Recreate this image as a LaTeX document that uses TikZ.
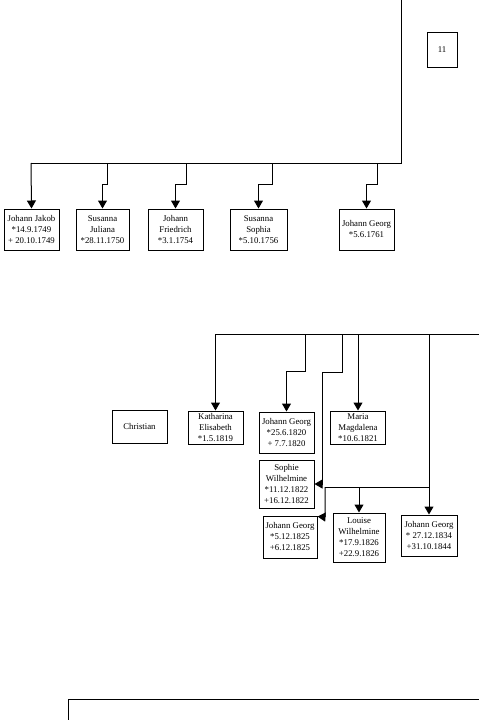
\documentclass[tikz,border=0pt]{standalone}
\usepackage{fontspec}
\setmainfont{Liberation Serif}
\usetikzlibrary{arrows.meta}
\begin{document}
\begin{tikzpicture}[x=1pt,y=-1pt,
  box/.style={draw, line width=1pt, rectangle, inner sep=0pt, align=center,
    font=\fontsize{8.8}{11}\selectfont},
  ln/.style={line width=1pt},
  arr/.style={line width=1pt,-{Triangle[width=9pt,length=8pt]}}]
\useasboundingbox (0,0) rectangle (479,720);
% boxes
\node[box, minimum width=30pt, minimum height=35pt] (b11) at (442,49.5) {11};
\node[box, minimum width=55pt, minimum height=41pt] (jj) at (31.5,229.5) {Johann Jakob\\*14.9.1749\\+ 20.10.1749};
\node[box, minimum width=53pt, minimum height=41pt] (sj) at (102.5,229.5) {Susanna\\Juliana\\*28.11.1750};
\node[box, minimum width=55pt, minimum height=41pt] (jf) at (175.5,229.5) {Johann\\Friedrich\\*3.1.1754};
\node[box, minimum width=57pt, minimum height=41pt] (ss) at (258.5,229.5) {Susanna\\Sophia\\*5.10.1756};
\node[box, minimum width=55pt, minimum height=41pt] (jg1) at (366.5,229.5) {Johann Georg\\*5.6.1761};
\node[box, minimum width=55pt, minimum height=33pt] (chr) at (139.5,426.5) {Christian};
\node[box, minimum width=55pt, minimum height=33pt] (ke) at (215.5,427.5) {Katharina\\Elisabeth\\*1.5.1819};
\node[box, minimum width=55pt, minimum height=41pt] (jg2) at (286.5,432.5) {Johann Georg\\*25.6.1820\\+ 7.7.1820};
\node[box, minimum width=55pt, minimum height=33pt] (mm) at (358,427.5) {Maria\\Magdalena\\*10.6.1821};
\node[box, minimum width=55pt, minimum height=48pt] (sw) at (286.5,484) {Sophie\\Wilhelmine\\*11.12.1822\\+16.12.1822};
\node[box, minimum width=54pt, minimum height=42pt] (jg3) at (290,537) {Johann Georg\\*5.12.1825\\+6.12.1825};
\node[box, minimum width=52pt, minimum height=49pt] (lw) at (359,537.5) {Louise\\Wilhelmine\\*17.9.1826\\+22.9.1826};
\node[box, minimum width=56pt, minimum height=41pt] (jg4) at (429,535.5) {Johann Georg\\* 27.12.1834\\+31.10.1844};
% top tree
\coordinate (ttop) at (401,0);
\coordinate (tl) at (31,163);
\coordinate (t2) at (107,163);
\coordinate (t3) at (186,163);
\coordinate (t4) at (272,163);
\coordinate (t5) at (377,163);
\draw[ln] (ttop) |- (tl);
\draw[arr] (tl) -- (jj.north);
\draw[arr] (t2) -- (107,184) -- (102.5,184) -- (sj.north);
\draw[arr] (t3) -- (186,184) -- (175.5,184) -- (jf.north);
\draw[arr] (t4) -- (272,184) -- (258.5,184) -- (ss.north);
\draw[arr] (t5) -- (377,184) -- (366.5,184) -- (jg1.north);
% middle tree
\coordinate (ml) at (215.5,334);
\coordinate (mr) at (479,334);
\coordinate (m2) at (305,334);
\coordinate (m3) at (342,334);
\coordinate (m4) at (358,334);
\coordinate (m5) at (429,334);
\coordinate (h5) at (429,487);
\coordinate (h4) at (359,487);
\coordinate (hl) at (325,487);
\draw[ln] (ml) -- (mr);
\draw[arr] (ml) -- (ke.north);
\draw[arr] (m2) -- (305,371) -- (286.5,371) -- (jg2.north);
\draw[arr] (m3) -- (342,372) -- (322,372) -- (322,484) -- (sw.east);
\draw[arr] (m4) -- (mm.north);
\draw[arr] (m5) -- (jg4.north);
\draw[ln] (h5) -- (hl);
\draw[arr] (h4) -- (lw.north);
\draw[arr] (hl) -- (325,517) -- ([yshift=-1pt]jg3.north east);
% bottom
\coordinate (bl) at (68,720);
\coordinate (br) at (479,699);
\draw[ln] (bl) |- (br);
\end{tikzpicture}
\end{document}
